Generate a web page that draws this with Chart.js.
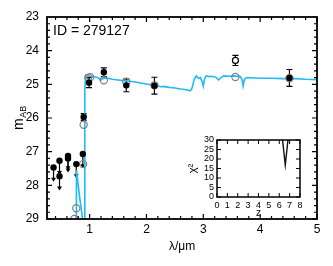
<!DOCTYPE html>
<html><head><meta charset="utf-8">
<script src="https://cdn.jsdelivr.net/npm/chart.js@4.4.1/dist/chart.umd.min.js"></script>
<style>
html,body{margin:0;padding:0;background:#fff;}
#wrap{position:relative;width:333px;height:266px;}
#main{position:absolute;left:0;top:0;}
#inset{position:absolute;left:180px;top:130px;}
</style></head><body>
<div id="wrap">
<canvas id="main" width="333" height="266"></canvas>
<canvas id="inset" width="130" height="95"></canvas>
</div>
<script>
const objectLabel = "ID = 279127";
const xTitle = "λ/μm";

// best-fit SED model (wavelength in micron, AB mag)
const modelLambda = [0.755,0.764,0.768,0.78,0.80,0.82,0.84,0.86,0.88,0.895,0.905,0.912,0.918,0.925,0.94,0.96,1.00,1.05,1.10,1.15,1.19,1.22,1.26,1.32,1.40,1.50,1.60,1.70,1.80,1.90,2.00,2.10,2.20,2.25,2.30,2.40,2.50,2.60,2.70,2.77,2.80,2.84,2.875,2.915,2.95,2.985,3.00,3.02,3.05,3.10,3.15,3.22,3.27,3.31,3.36,3.45,3.55,3.65,3.68,3.70,3.725,3.77,3.90,4.00,4.20,4.40,4.60,4.80,5.00];
const modelMag    = [30.5,28.9,27.55,27.7,28.0,28.3,28.55,28.8,29.1,30.5,30.5,27.0,25.2,24.85,24.72,24.73,24.76,24.77,24.78,24.80,24.88,24.84,24.81,24.82,24.85,24.87,24.89,24.91,24.93,24.96,24.99,25.02,25.05,25.07,25.06,25.09,25.11,25.14,25.16,25.19,25.12,24.85,24.75,24.82,24.80,24.95,25.05,24.85,24.75,24.77,24.76,24.79,24.87,24.80,24.75,24.76,24.75,24.77,24.85,25.05,24.84,24.80,24.81,24.82,24.82,24.83,24.83,24.85,24.86];

// detections
const detLambda = [0.895, 0.99, 1.25, 1.645, 2.14, 4.515];
const detMag    = [25.97, 24.95, 24.64, 25.03, 25.04, 24.81];
const detErr    = [0.10, 0.15, 0.13, 0.19, 0.25, 0.25];

// detection not used in the fit (open symbol)
const openLambda = [3.565];
const openMag    = [24.29];
const openErr    = [0.15];

// upper limits
const limLambda = [0.365, 0.47, 0.47, 0.62, 0.62, 0.765, 0.88];
const limMag    = [27.47, 27.27, 27.73, 27.13, 27.20, 27.37, 27.07];

// model photometry
const synLambda = [0.73, 0.765, 0.885, 0.895, 0.975, 1.01, 1.25, 1.645, 2.14, 3.565, 4.515];
const synMag    = [29.0, 28.68, 27.37, 26.20, 24.80, 24.79, 24.88, 24.92, 25.03, 24.78, 24.82];

// chi^2 vs redshift (inset)
const zGrid = [6.26, 6.58, 6.90];
const chi2  = [33, 16.8, 33];

const xTicks = [1, 2, 3, 4, 5];
const yTicks = [23, 24, 25, 26, 27, 28, 29];
const zTicks = [0, 1, 2, 3, 4, 5, 6, 7, 8];
const chiTicks = [0, 5, 10, 15, 20, 25, 30];

const FONT = "'Liberation Sans', Arial, Helvetica, sans-serif";
const BLUE = '#1EBBF5';
const pts = (xs, ys) => xs.map((v, i) => ({x: v, y: ys[i]}));

const mainDecor = {
  id: 'mainDecor',
  beforeDatasetsDraw(chart) {
    const {ctx, scales: {x, y}} = chart;
    ctx.save();
    ctx.strokeStyle = '#000'; ctx.fillStyle = '#000'; ctx.lineWidth = 1.2;
    const bars = (xs, ys, es) => xs.forEach((lx, i) => {
      const px = x.getPixelForValue(lx);
      const p1 = y.getPixelForValue(ys[i] - es[i]);
      const p2 = y.getPixelForValue(ys[i] + es[i]);
      ctx.beginPath();
      ctx.moveTo(px, p1); ctx.lineTo(px, p2);
      ctx.moveTo(px - 3, p1); ctx.lineTo(px + 3, p1);
      ctx.moveTo(px - 3, p2); ctx.lineTo(px + 3, p2);
      ctx.stroke();
    });
    bars(detLambda, detMag, detErr);
    bars(openLambda, openMag, openErr);
    // upper-limit arrows
    limLambda.forEach((lx, i) => {
      const px = x.getPixelForValue(lx);
      const p1 = y.getPixelForValue(limMag[i]);
      const p2 = y.getPixelForValue(limMag[i] + 0.42);
      ctx.beginPath(); ctx.moveTo(px, p1); ctx.lineTo(px, p2 - 3); ctx.stroke();
      ctx.beginPath(); ctx.moveTo(px - 2.5, p2 - 4); ctx.lineTo(px + 2.5, p2 - 4); ctx.lineTo(px, p2); ctx.closePath(); ctx.fill();
    });
    ctx.restore();
  },
  afterDraw(chart) {
    const {ctx, chartArea: a, scales: {x, y}} = chart;
    ctx.save();
    ctx.strokeStyle = '#000'; ctx.lineWidth = 1.2;
    ctx.beginPath();
    for (let v = 0.4; v < 5.001; v += 0.2) {
      const r = Math.round(v * 10) / 10;
      const px = x.getPixelForValue(r);
      const L = Math.abs(r - Math.round(r)) < 1e-6 ? 5 : 3;
      ctx.moveTo(px, a.bottom); ctx.lineTo(px, a.bottom - L);
      ctx.moveTo(px, a.top); ctx.lineTo(px, a.top + L);
    }
    for (let v = 23.2; v < 29; v += 0.2) {
      const r = Math.round(v * 10) / 10;
      const py = y.getPixelForValue(r);
      const L = Math.abs(r - Math.round(r)) < 1e-6 ? 5 : 3;
      ctx.moveTo(a.left, py); ctx.lineTo(a.left + L, py);
      ctx.moveTo(a.right, py); ctx.lineTo(a.right - L, py);
    }
    ctx.stroke();
    ctx.lineWidth = 1.8;
    ctx.strokeRect(a.left, a.top, a.right - a.left, a.bottom - a.top);
    // label text
    ctx.fillStyle = '#000';
    ctx.font = '14px ' + FONT;
    ctx.textAlign = 'left'; ctx.textBaseline = 'alphabetic';
    ctx.fillText(objectLabel, a.left + 6, a.top + 18);
    // x title
    ctx.font = '12px ' + FONT;
    ctx.textAlign = 'center'; ctx.textBaseline = 'middle';
    ctx.fillText(xTitle, (a.left + a.right) / 2, 247);
    // y title m_AB
    ctx.save();
    ctx.translate(23, (a.top + a.bottom) / 2 + 12);
    ctx.rotate(-Math.PI / 2);
    ctx.textAlign = 'left'; ctx.textBaseline = 'alphabetic';
    ctx.font = '14px ' + FONT;
    ctx.fillText('m', 0, 0);
    const mw = ctx.measureText('m').width;
    ctx.font = '9px ' + FONT;
    ctx.fillText('AB', mw + 0.5, 3);
    ctx.restore();
    ctx.restore();
  }
};

new Chart(document.getElementById('main'), {
  type: 'scatter',
  data: { datasets: [
    {data: pts(detLambda, detMag), pointRadius: 3.2, backgroundColor: '#000', borderColor: '#000', borderWidth: 0, clip: 0},
    {data: pts(limLambda, limMag), pointRadius: 3.2, backgroundColor: '#000', borderColor: '#000', borderWidth: 0, clip: 0},
    {data: pts(openLambda, openMag), pointRadius: 3, backgroundColor: '#fff', borderColor: '#000', borderWidth: 1.2, clip: 0},
    {data: pts(synLambda, synMag), pointRadius: 3.6, backgroundColor: 'rgba(0,0,0,0)', borderColor: '#808080', borderWidth: 1.2, clip: 0},
    {data: pts(modelLambda, modelMag), showLine: true, borderColor: BLUE, borderWidth: 1.6, pointRadius: 0, tension: 0, clip: 0}
  ]},
  options: {
    responsive: false, animation: false, devicePixelRatio: 1,
    layout: {padding: {left: 0, top: 17, right: 16, bottom: 0}},
    plugins: {legend: {display: false}, tooltip: {enabled: false}},
    scales: {
      x: {type: 'linear', min: 0.25, max: 5,
          afterBuildTicks: s => { s.ticks = xTicks.map(v => ({value: v})); },
          afterFit: s => { s.height = 47; },
          grid: {display: false, drawTicks: false}, border: {display: false},
          ticks: {padding: 3, color: '#000', autoSkip: false, maxRotation: 0, font: {family: FONT, size: 12}}},
      y: {type: 'linear', reverse: true, min: 23, max: 29,
          afterBuildTicks: s => { s.ticks = yTicks.map(v => ({value: v})); },
          afterFit: s => { s.width = 47; },
          grid: {display: false, drawTicks: false}, border: {display: false},
          ticks: {padding: 8, color: '#000', autoSkip: false, font: {family: FONT, size: 12}}}
    }
  },
  plugins: [mainDecor]
});

const insetDecor = {
  id: 'insetDecor',
  beforeDraw(chart) {
    const {ctx, chartArea: a} = chart;
    ctx.save(); ctx.fillStyle = '#fff';
    ctx.fillRect(a.left, a.top, a.right - a.left, a.bottom - a.top);
    ctx.restore();
  },
  afterDraw(chart) {
    const {ctx, chartArea: a, scales: {x, y}} = chart;
    ctx.save();
    ctx.strokeStyle = '#000'; ctx.lineWidth = 1;
    ctx.beginPath();
    zTicks.forEach(v => { const px = x.getPixelForValue(v);
      ctx.moveTo(px, a.bottom); ctx.lineTo(px, a.bottom - 4);
      ctx.moveTo(px, a.top); ctx.lineTo(px, a.top + 4); });
    chiTicks.forEach(v => { const py = y.getPixelForValue(v);
      ctx.moveTo(a.left, py); ctx.lineTo(a.left + 4, py);
      ctx.moveTo(a.right, py); ctx.lineTo(a.right - 4, py); });
    ctx.stroke();
    ctx.lineWidth = 1.5;
    ctx.strokeRect(a.left, a.top, a.right - a.left, a.bottom - a.top);
    ctx.fillStyle = '#000';
    ctx.font = '10px ' + FONT;
    ctx.textAlign = 'center'; ctx.textBaseline = 'middle';
    ctx.fillText('z', (a.left + a.right) / 2, 83);
    ctx.save();
    ctx.translate(13, (a.top + a.bottom) / 2);
    ctx.rotate(-Math.PI / 2);
    ctx.font = '11px ' + FONT;
    ctx.fillText('χ²', 0, 0);
    ctx.restore();
    ctx.restore();
  }
};

new Chart(document.getElementById('inset'), {
  type: 'scatter',
  data: {datasets: [{data: pts(zGrid, chi2), showLine: true, borderColor: '#111', borderWidth: 1.4, pointRadius: 0, tension: 0, clip: 0}]},
  options: {
    responsive: false, animation: false, devicePixelRatio: 1,
    layout: {padding: {left: 0, top: 10, right: 10, bottom: 0}},
    plugins: {legend: {display: false}, tooltip: {enabled: false}},
    scales: {
      x: {type: 'linear', min: 0, max: 8,
          afterBuildTicks: s => { s.ticks = zTicks.map(v => ({value: v})); },
          afterFit: s => { s.height = 28; },
          grid: {display: false, drawTicks: false}, border: {display: false},
          ticks: {padding: 3, color: '#000', autoSkip: false, maxRotation: 0, font: {family: FONT, size: 9}}},
      y: {type: 'linear', min: 0, max: 30,
          afterBuildTicks: s => { s.ticks = chiTicks.map(v => ({value: v})); },
          afterFit: s => { s.width = 37; },
          grid: {display: false, drawTicks: false}, border: {display: false},
          ticks: {padding: 3, color: '#000', autoSkip: false, font: {family: FONT, size: 9}}}
    }
  },
  plugins: [insetDecor]
});
</script>
</body></html>
